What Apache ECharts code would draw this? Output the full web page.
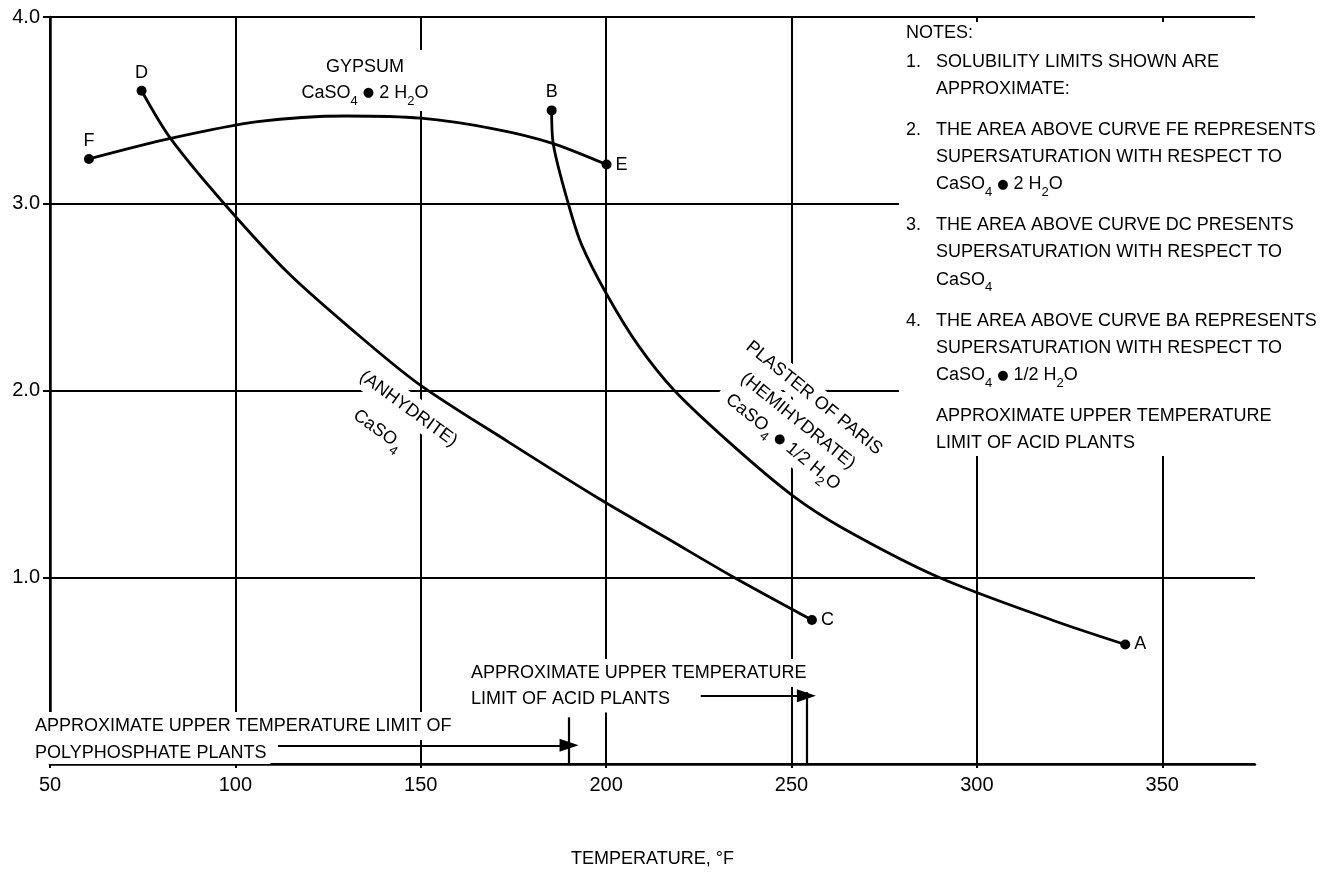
<!DOCTYPE html>
<html><head><meta charset="utf-8">
<script src="https://cdn.jsdelivr.net/npm/echarts/dist/echarts.min.js"></script>
<style>html,body{margin:0;padding:0;background:#fff}#c{width:1334px;height:873px}</style>
</head><body><div id="c"></div>
<script>
const FONT = '"Liberation Sans", Arial, Helvetica, sans-serif';

// axis tick labels
const xTickLabels = [50, 100, 150, 200, 250, 300, 350];
const yTickLabels = ['1.0', '2.0', '3.0', '4.0'];

// Curve FE - gypsum (CaSO4 . 2 H2O)
const feTemp = [60.5, 82.5, 106, 130, 150, 170, 185.3, 200.1];
const feSol  = [3.24, 3.35, 3.44, 3.47, 3.458, 3.40, 3.325, 3.21];

// Curve DC - anhydrite (CaSO4)
const dcTemp = [74.7, 82.5, 97, 114.2, 131.2, 149.3, 173.6, 197.9, 216.3, 234.4, 255.5];
const dcSol  = [3.605, 3.35, 3.0, 2.63, 2.33, 2.037, 1.725, 1.423, 1.21, 1.0, 0.771];

// Curve BA - plaster of paris (CaSO4 . 1/2 H2O)
const baTemp = [185.3, 185.7, 189.8, 193.4, 200.3, 208.7, 218.4, 233.9, 250.1, 264.1, 289.7, 320.4, 340.0];
const baSol  = [3.50, 3.325, 3.0, 2.78, 2.51, 2.24, 2.0, 1.71, 1.44, 1.26, 1.0, 0.77, 0.64];

// approximate upper temperature limits (polyphosphate plants, acid plants)
const limitTemps        = [190, 254];
const limitBarTops      = [0.25, 0.385];
const limitArrowStarts  = [111.5, 225.5];
const limitArrowLevels  = [0.10, 0.365];

const curves = [
  {name: 'FE', t: feTemp, s: feSol},
  {name: 'DC', t: dcTemp, s: dcSol},
  {name: 'BA', t: baTemp, s: baSol}
];

const RICH = {
  s: {fontSize: 13, fontFamily: FONT, fill: '#000', color: '#000', padding: [16, 0, 0, 0]},
  d: {fontSize: 13, fontFamily: 'DejaVu Sans', fill: '#000', color: '#000'}
};

function txt(text, x, y, opt) {
  opt = opt || {};
  const st = {
    text: text, x: 0, y: 0, fill: '#000', fontSize: opt.fontSize || 18, fontFamily: FONT,
    align: opt.align || 'left', verticalAlign: 'middle', rich: RICH
  };
  if (opt.bg) { st.backgroundColor = '#fff'; st.padding = opt.padding || [4, 4]; }
  return {type: 'text', x: x, y: y, rotation: (opt.rot || 0) * Math.PI / 180, z: 8, silent: true, style: st};
}

const graphics = [];
// white masks where the original labels cover the grid
graphics.push({type: 'rect', z: 5, silent: true, shape: {x: 899, y: 22, width: 435, height: 434}, style: {fill: '#fff'}});
graphics.push({type: 'rect', z: 5, silent: true, shape: {x: 292, y: 50, width: 146, height: 61}, style: {fill: '#fff'}});

// notes block
const notes = [
  ['1.', ['SOLUBILITY LIMITS SHOWN ARE', 'APPROXIMATE:']],
  ['2.', ['THE AREA ABOVE CURVE FE REPRESENTS', 'SUPERSATURATION WITH RESPECT TO', 'CaSO{s|4} {d|●} 2 H{s|2}O']],
  ['3.', ['THE AREA ABOVE CURVE DC PRESENTS', 'SUPERSATURATION WITH RESPECT TO', 'CaSO{s|4}']],
  ['4.', ['THE AREA ABOVE CURVE BA REPRESENTS', 'SUPERSATURATION WITH RESPECT TO', 'CaSO{s|4} {d|●} 1/2 H{s|2}O']],
  ['',   ['APPROXIMATE UPPER TEMPERATURE', 'LIMIT OF ACID PLANTS']]
];
graphics.push(txt('NOTES:', 906, 33));
let gy = 61.7;
const LH = 27.3, GAP = 13.5;
notes.forEach(function (g) {
  if (g[0]) graphics.push(txt(g[0], 906, gy));
  g[1].forEach(function (line, i) { graphics.push(txt(line, 936, gy + i * LH)); });
  gy += g[1].length * LH + GAP;
});

// gypsum label
graphics.push(txt('GYPSUM', 365, 67, {align: 'center'}));
graphics.push(txt('CaSO{s|4} {d|●} 2 H{s|2}O', 365, 93, {align: 'center'}));

// anhydrite label
graphics.push(txt('(ANHYDRITE)', 409, 408, {align: 'center', rot: -36, bg: true, padding: [6, 8, 4, 8]}));
graphics.push(txt('CaSO{s|4}', 378, 430, {align: 'center', rot: -36, bg: true, padding: [0, 3]}));

// plaster of paris label (drawn bottom line first)
graphics.push(txt('CaSO{s|4} {d|●} 1/2 H{s|2}O', 783, 442, {align: 'center', rot: -39, bg: true, padding: [0, 10]}));
graphics.push(txt('(HEMIHYDRATE)', 798, 421, {align: 'center', rot: -39, bg: true, padding: [4, 6]}));
graphics.push(txt('PLASTER OF PARIS', 814, 398, {align: 'center', rot: -39, bg: true, padding: [4, 6]}));

// limit annotations near the bottom
graphics.push(txt('APPROXIMATE UPPER TEMPERATURE', 467, 673, {bg: true, padding: [5, 4, 5, 4]}));
graphics.push(txt('LIMIT OF ACID PLANTS', 467, 699, {bg: true, padding: [5, 4, 4, 4]}));
graphics.push(txt('APPROXIMATE UPPER TEMPERATURE LIMIT OF', 31, 726, {bg: true, padding: [5, 4, 5, 4]}));
graphics.push(txt('POLYPHOSPHATE PLANTS', 31, 752, {bg: true, padding: [4, 4, 2, 4]}));

const series = [];
curves.forEach(function (c) {
  series.push({
    type: 'line', name: c.name, z: 10, silent: true,
    data: c.t.map(function (x, i) { return [x, c.s[i]]; }),
    smooth: 0.3, symbol: 'none',
    lineStyle: {color: '#000', width: 2.8}
  });
  const n = c.t.length - 1;
  series.push({
    type: 'scatter', z: 11, silent: true, symbolSize: 10,
    itemStyle: {color: '#000', opacity: 1},
    label: {show: true, color: '#000', opacity: 1, fontSize: 18, fontFamily: FONT, distance: 4},
    data: [
      {value: [c.t[0], c.s[0]], label: {formatter: c.name[0], position: 'top'}},
      {value: [c.t[n], c.s[n]], label: {formatter: c.name[1], position: 'right'}}
    ]
  });
});

const ml = [];
limitTemps.forEach(function (t, i) {
  ml.push([{coord: [t, 0], symbol: 'none'}, {coord: [t, limitBarTops[i]], symbol: 'none'}]);
  ml.push([{coord: [limitArrowStarts[i], limitArrowLevels[i]], symbol: 'none'},
           {coord: [t, limitArrowLevels[i]], symbol: 'triangle', symbolSize: [13, 19]}]);
});
series.push({
  type: 'line', data: [], z: 10, silent: true,
  markLine: {
    silent: true, animation: false, label: {show: false},
    lineStyle: {color: '#000', width: 2.2, type: 'solid'},
    itemStyle: {color: '#000'},
    emphasis: {disabled: true},
    data: ml
  }
});

const chart = echarts.init(document.getElementById('c'), null, {renderer: 'canvas'});
chart.setOption({
  animation: false,
  backgroundColor: '#fff',
  grid: {left: 50, right: 79, top: 17, bottom: 106, containLabel: false},
  xAxis: {
    type: 'value', min: 50, max: 375, interval: 50,
    name: 'TEMPERATURE, °F', nameLocation: 'middle', nameGap: 86,
    nameTextStyle: {color: '#000', fontSize: 18, fontFamily: FONT},
    axisLine: {show: true, onZero: false, lineStyle: {color: '#000', width: 2.5}},
    axisTick: {show: true, length: 4, lineStyle: {color: '#000', width: 2}},
    axisLabel: {color: '#000', fontSize: 20, fontFamily: FONT, margin: 11, showMaxLabel: false,
      formatter: function (v) { return xTickLabels.indexOf(v) >= 0 ? String(v) : ''; }},
    splitLine: {show: true, showMaxLine: false, lineStyle: {color: '#000', width: 2}}
  },
  yAxis: {
    type: 'value', min: 0, max: 4, interval: 1,
    axisLine: {show: true, lineStyle: {color: '#000', width: 2.5}},
    axisTick: {show: true, length: 7, lineStyle: {color: '#000', width: 2}},
    axisLabel: {color: '#000', fontSize: 20, fontFamily: FONT, margin: 10, showMinLabel: false,
      formatter: function (v) { return v >= 1 ? yTickLabels[Math.round(v) - 1] : ''; }},
    splitLine: {show: true, lineStyle: {color: '#000', width: 2}}
  },
  series: series,
  graphic: graphics
});
</script></body></html>
